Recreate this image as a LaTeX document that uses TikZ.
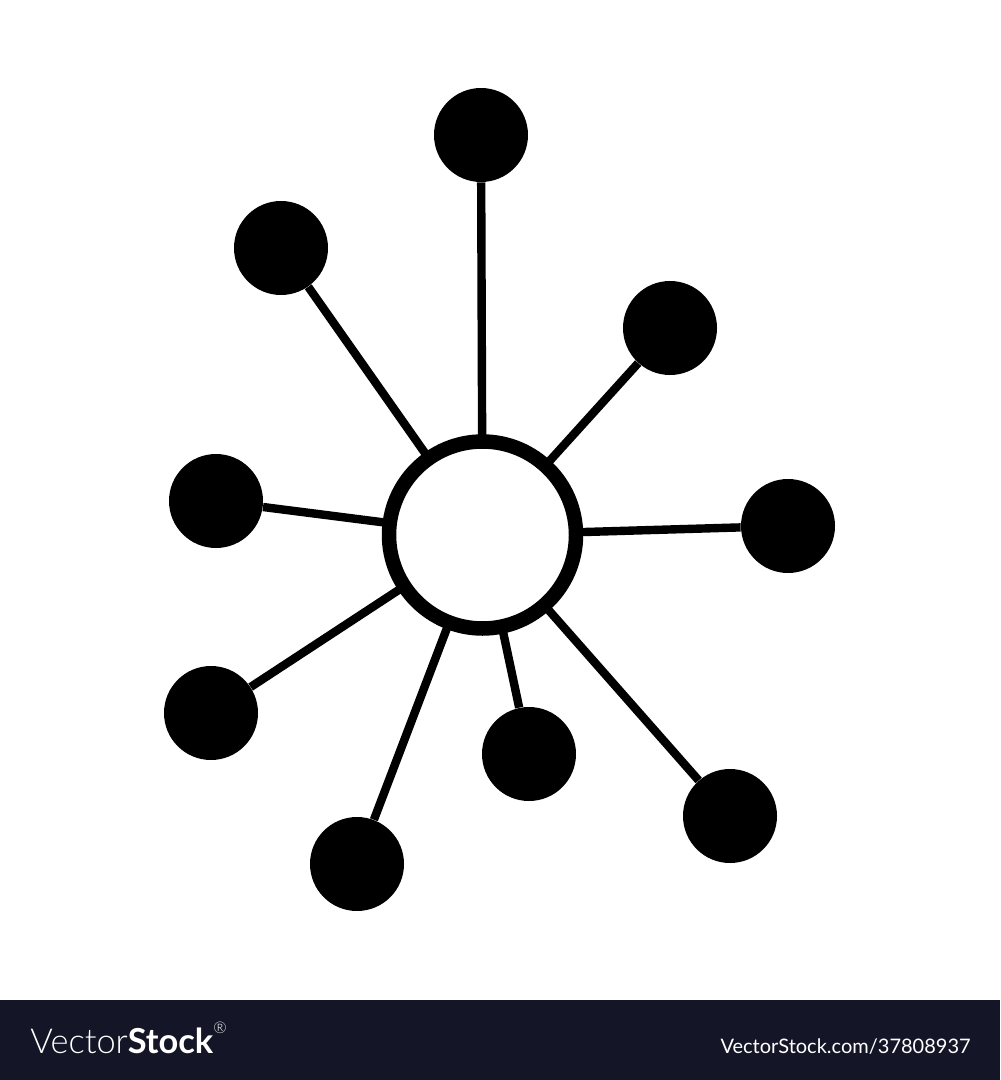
\documentclass[tikz,border=0pt]{standalone}
\usepackage{fontspec}
\newfontfamily\wmfont{Lato}
\definecolor{barcol}{HTML}{141526}
\begin{document}
\begin{tikzpicture}[x=0.5pt,y=-0.5pt,
  sat/.style={circle,fill=black,inner sep=0pt,minimum size=47pt},
  hub/.style={circle,draw=black,fill=white,line width=7.25pt,inner sep=0pt,minimum size=93.5pt},
  spoke/.style={line width=4.2pt,black}]
\useasboundingbox (0,0) rectangle (1000,1080);
\fill[white] (0,0) rectangle (1000,1000);
\fill[barcol] (0,1000) rectangle (1000,1080);
\coordinate (cc) at (482.5,535);
\node[sat] (s1) at (481,135) {};
\node[sat] (s2) at (281,248) {};
\node[sat] (s3) at (670,328) {};
\node[sat] (s4) at (216,501) {};
\node[sat] (s5) at (788,526) {};
\node[sat] (s6) at (211,713) {};
\node[sat] (s7) at (357,864) {};
\node[sat] (s8) at (529,754) {};
\node[sat] (s9) at (730,816) {};
\foreach \s in {s1,s2,s3,s4,s5,s6,s7,s8,s9}
  \draw[spoke] (cc) -- (\s);
\node[hub] (c) at (cc) {};
\node[anchor=base west,inner sep=0pt,text=white,font=\wmfont\fontsize{17.2}{20}\selectfont] (wm1) at (30,1053)
  {\fontspec{Lato Light}Vector\textbf{\wmfont Stock}\raisebox{1.15ex}{\fontsize{8}{9}\selectfont\textregistered}};
\node[anchor=base east,inner sep=0pt,text=white,font=\wmfont\fontsize{10}{12}\selectfont] (wm2) at (971,1053)
  {VectorStock.com/37808937};
\end{tikzpicture}
\end{document}
